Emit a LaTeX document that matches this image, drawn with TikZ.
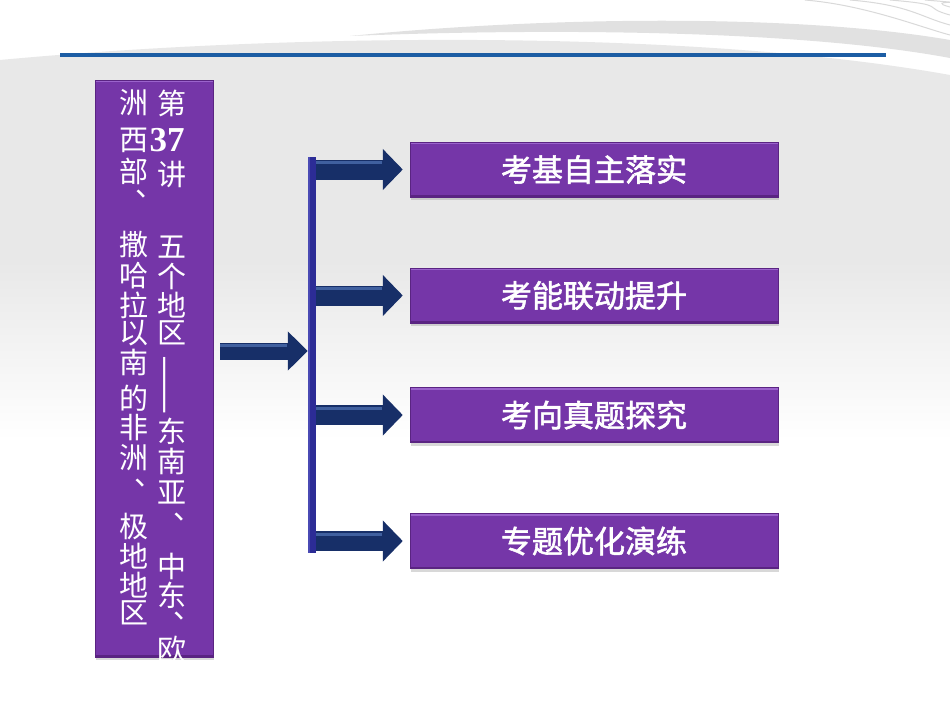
\documentclass[tikz,border=0pt]{standalone}
\usepackage{fontspec}
\newfontfamily\cjk{Noto Sans CJK SC}
\newfontfamily\cjkb[FakeBold=1.8]{Noto Sans CJK SC}
\newfontfamily\tnr{Liberation Serif}
\usetikzlibrary{shadows,arrows.meta,calc}
\definecolor{pur}{HTML}{7536A8}
\definecolor{purlight}{HTML}{9B63CC}
\definecolor{purdark}{HTML}{5A2482}
\definecolor{navy}{HTML}{172F68}
\definecolor{navylight}{HTML}{40609F}
\definecolor{barblue}{HTML}{2C2C96}
\definecolor{barlight}{HTML}{4A4AB4}
\definecolor{lineblue}{HTML}{1C5DA4}
\definecolor{bggrey}{HTML}{E8E8E8}
\definecolor{bandgrey}{HTML}{E1E1E1}
\tikzset{
  pbox/.style={draw=purdark, line width=0.5pt, fill=pur, inner sep=0pt,
    drop shadow={opacity=0.3, shadow xshift=1pt, shadow yshift=-3pt},
    path picture={
      \fill[purlight] (path picture bounding box.north west) rectangle ([yshift=-2pt]path picture bounding box.north east);
      \fill[purdark] (path picture bounding box.south west) rectangle ([yshift=2pt]path picture bounding box.south east);}},
  sbox/.style={pbox, minimum width=368, minimum height=55, text=white, font=\cjkb\fontsize{31}{31}\selectfont},
  cjkchar/.style={inner sep=0pt, text=white, font=\cjk\fontsize{29}{29}\selectfont},
  arrmain/.style={draw=navy, line width=17pt, -{Triangle[length=20pt,width=38pt]}},
  arrbranch/.style={draw=navy, line width=20pt, -{Triangle[length=20pt,width=40pt]}},
  hilite/.style={draw=navylight, line width=3pt},
}
\begin{document}
\begin{tikzpicture}[x=1pt,y=-1pt]
\useasboundingbox (0,0) rectangle (950,713);
% background
\fill[white] (0,0) rectangle (950,713);
\fill[bggrey] (0,60) .. controls (300,32) and (700,30) .. (950,75) -- (950,262) -- (0,262) -- cycle;
\shade[top color=bggrey, bottom color=white] (0,261) rectangle (950,440);
\fill[bandgrey] (350,36) .. controls (550,16) and (800,14) .. (950,40) -- (950,58) .. controls (800,30) and (550,28) .. (350,36) -- cycle;
\foreach \a/\b in {805/35, 850/25, 890/15, 925/7}
  \draw[draw=black!15, line width=1pt] (\a,0) .. controls (\a+60,5) and (920,\b-8) .. (950,\b);
% top rule
\draw[lineblue, line width=4pt] (60,55) -- (886,55);

% title box
\node[pbox, minimum width=118, minimum height=577] (title) at (154,368.5) {};
\foreach \ch/\yy [count=\i] in {第/103, 讲/174, 五/247, 个/276, 地/305, 区/333, 东/431, 南/461, 亚/492, 中/566, 东/595, 欧/650}
  \node[cjkchar, name=r\i] at (172,\yy) {\ch};
\foreach \ch/\yy [count=\i] in {洲/103, 西/140, 部/171, 撒/245, 哈/276, 拉/305, 以/333, 南/362, 的/398, 非/428, 洲/458, 极/526, 地/556, 地/585, 区/613}
  \node[cjkchar, name=l\i] at (134,\yy) {\ch};
\node[inner sep=0pt, text=white, font=\tnr\bfseries\fontsize{35}{35}\selectfont] (num) at (167,140) {37};
\node[inner sep=0pt, text=white, rotate=90, font=\cjk\fontsize{35}{35}\selectfont] (dash) at (169,385) {——};
\node[cjkchar] (rc1) at (188,517) {、};
\node[cjkchar] (rc2) at (188,616) {、};
\node[cjkchar] (lc1) at (150,194) {、};
\node[cjkchar] (lc2) at (149,483) {、};

% bar
\node[fill=barblue, minimum width=8, minimum height=396, inner sep=0pt,
  path picture={\fill[barlight] (path picture bounding box.north west) rectangle ([xshift=2pt]path picture bounding box.south west);}] (bar) at (312,355) {};

% boxes
\node[sbox] (b1) at (594,169.5) {考基自主落实};
\node[sbox] (b2) at (594,295.5) {考能联动提升};
\node[sbox] (b3) at (594,415) {考向真题探究};
\node[sbox] (b4) at (594,541) {专题优化演练};

% arrows
\coordinate (my) at (0,351);
\draw[arrmain] ($(title.east |- my)+(7,0)$) -- (bar.west |- my);
\draw[hilite] ($(title.east |- my)+(7,-6)$) -- ($(bar.west |- my)+(-21,-6)$);
\foreach \b in {b1,b2,b3,b4}{
  \draw[arrbranch] (bar.east |- \b.west) -- ($(\b.west)+(-7,0)$);
  \draw[hilite] ($(bar.east |- \b.west)+(0,-7)$) -- ($(\b.west)+(-28,-7)$);
}
\end{tikzpicture}
\end{document}
